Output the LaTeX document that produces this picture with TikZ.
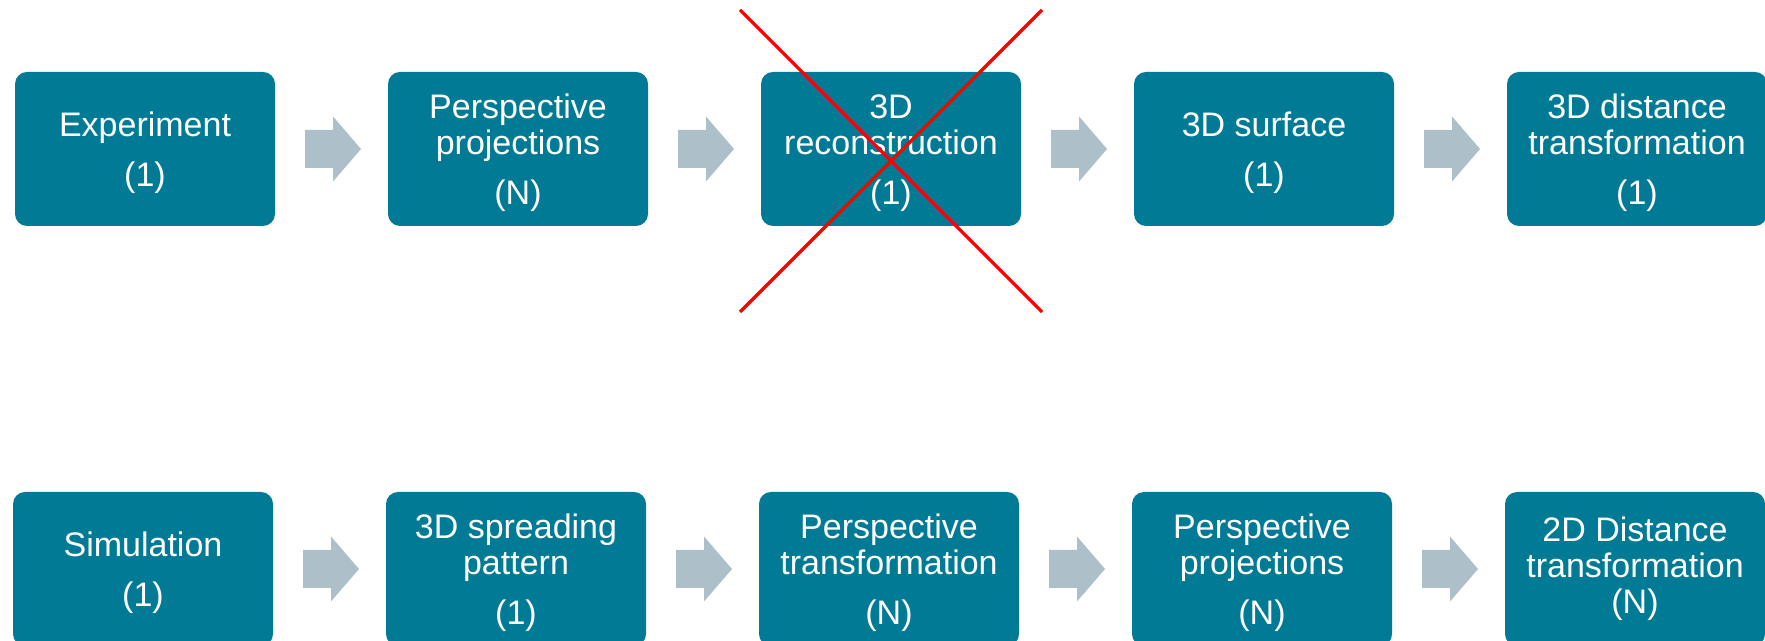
\documentclass[tikz,border=0pt]{standalone}
\usepackage{fontspec}
\setmainfont{Liberation Sans}
\usetikzlibrary{calc}
\definecolor{boxteal}{RGB}{0,122,149}
\definecolor{arrowgray}{RGB}{173,191,201}
\newcommand\flowarrow[2]{%
  \fill[arrowgray] ($(#1.east)!0.5!(#2.west)+(-26.5,-19)$) -- ++(28,0) -- ++(0,-13.5) -- ++(28,32.5) -- ++(-28,32.5) -- ++(0,-13.5) -- ++(-28,0) -- cycle;}
\newcommand\pgap{\\[7pt]}
\newcommand\ptop{\rule{0pt}{16pt}}
\begin{document}
\begin{tikzpicture}[x=0.5pt,y=0.5pt,
  stepbox/.style={fill=boxteal, rounded corners=6pt, minimum width=130pt, minimum height=77pt,
    inner sep=0pt, align=center, text=white, font=\fontsize{17}{18}\selectfont},
  crossline/.style={draw=red, line width=1.6pt}]
\useasboundingbox (0,0) rectangle (1765,641);
% top row
\node[stepbox] (t1) at (145,492) {\ptop Experiment\pgap(1)};
\node[stepbox] (t2) at (518,492) {\ptop Perspective\\projections\pgap(N)};
\node[stepbox] (t3) at (891,492) {\ptop 3D\\reconstruction\pgap(1)};
\node[stepbox] (t4) at (1264,492) {\ptop 3D surface\pgap(1)};
\node[stepbox] (t5) at (1637,492) {\ptop 3D distance\\transformation\pgap(1)};
% bottom row
\node[stepbox] (b1) at (143,72) {\ptop Simulation\pgap(1)};
\node[stepbox] (b2) at (516,72) {\ptop 3D spreading\\pattern\pgap(1)};
\node[stepbox] (b3) at (889,72) {\ptop Perspective\\transformation\pgap(N)};
\node[stepbox] (b4) at (1262,72) {\ptop Perspective\\projections\pgap(N)};
\node[stepbox] (b5) at (1635,72) {2D Distance\\transformation\\(N)};
% arrows
\flowarrow{t1}{t2}
\flowarrow{t2}{t3}
\flowarrow{t3}{t4}
\flowarrow{t4}{t5}
\flowarrow{b1}{b2}
\flowarrow{b2}{b3}
\flowarrow{b3}{b4}
\flowarrow{b4}{b5}
% red cross
\coordinate (xa) at (740,631);
\coordinate (xb) at (1042,329);
\coordinate (xc) at (1042,631);
\coordinate (xd) at (740,329);
\draw[crossline] (xa) -- (xb);
\draw[crossline] (xc) -- (xd);
\end{tikzpicture}
\end{document}
